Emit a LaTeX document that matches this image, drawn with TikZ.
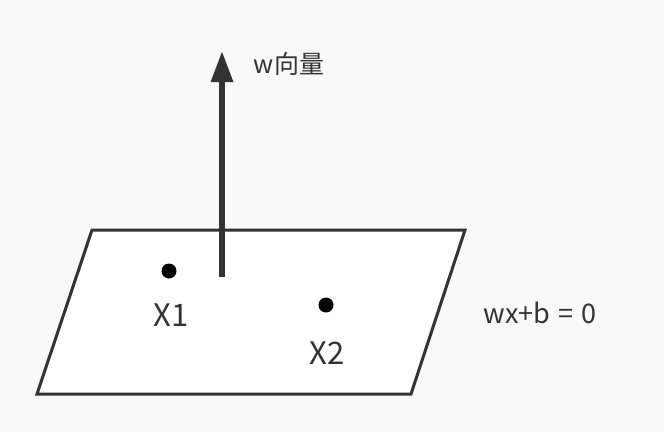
\documentclass[tikz,border=0pt]{standalone}
\usepackage{fontspec}
\setmainfont{Noto Sans CJK SC}
\usetikzlibrary{arrows.meta,positioning}
\definecolor{inkgray}{HTML}{333333}
\definecolor{bggray}{HTML}{F9F9F9}

\begin{document}
\begin{tikzpicture}[x=1pt, y=-1pt,
        plane/.style={draw=inkgray, line width=3pt, fill=white, line join=miter},
        point/.style={circle, fill=black, inner sep=0pt, minimum size=15pt},
        vec/.style={-{Triangle[length=31pt, width=21pt]}, draw=inkgray, line width=6pt},
        lbl/.style={text=inkgray, font=\fontsize{25}{29}\selectfont, inner sep=0pt},
        ptlbl/.style={text=inkgray, font=\fontsize{31}{35}\selectfont, inner sep=0pt},
    ]
        % Canvas
        \fill[bggray] (0,0) rectangle (664,432);
        \useasboundingbox (0,0) rectangle (664,432);

        % Hyperplane
        \draw[plane] (92,230) -- (465,230) -- (411,394) -- (37,394) -- cycle;

        % Points on the plane
        \node[point] (p1) at (169,271) {};
        \node[point] (p2) at (326,305) {};
        \node[ptlbl] (x1) at (171,315) {X1};
        \node[ptlbl] (x2) at (327,353) {X2};

        % Normal vector
        \coordinate (wbase) at (222,277);
        \coordinate (wtip) at (222,51);
        \draw[vec] (wbase) -- (wtip);
        \node[lbl] (wlabel) at (289,64) {w向量};

        % Plane equation
        \node[lbl, font=\fontsize{27}{31}\selectfont] (eq) at (540,313) {wx+b\hspace{8pt}=\hspace{8pt}0};

    \end{tikzpicture}
\end{document}
